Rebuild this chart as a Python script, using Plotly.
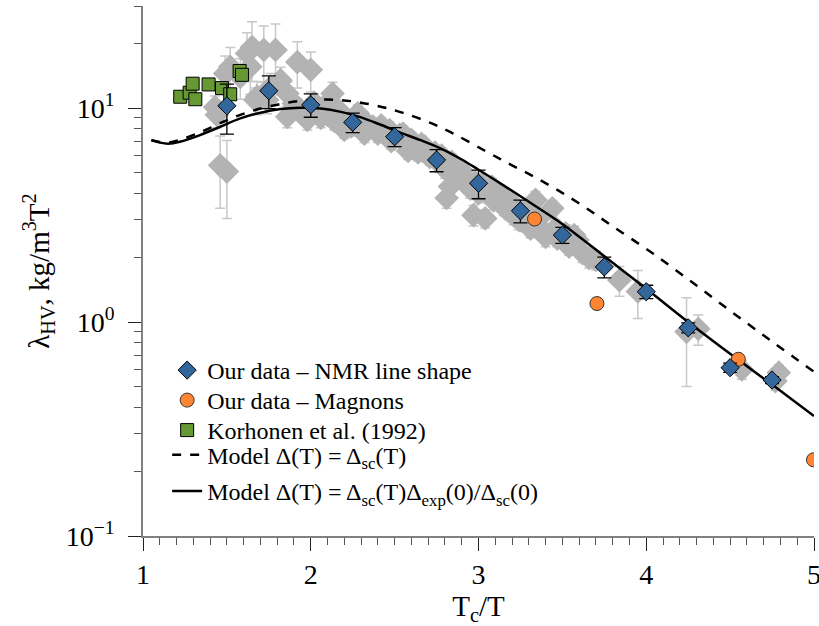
import plotly.graph_objects as go

# Our data: NMR line shape
nmr_x = [1.50, 1.75, 2.00, 2.25, 2.50, 2.75, 3.00, 3.25, 3.50, 3.75, 4.00, 4.25, 4.50, 4.75]
nmr_y = [10.25, 12.05, 10.36, 8.58, 7.35, 5.72, 4.45, 3.31, 2.55, 1.81, 1.386, 0.94, 0.612, 0.536]
nmr_err = [2.7, 2.1, 1.3, 0.9, 0.75, 0.68, 0.68, 0.40, 0.22, 0.20, 0.10, 0.05, 0.03, 0.02]

# Our data: magnons
mag_x = [3.334, 3.706, 4.549, 4.997]
mag_y = [3.03, 1.22, 0.67, 0.227]

# Korhonen et al. (1992)
kor_x = [1.222, 1.278, 1.296, 1.312, 1.391, 1.471, 1.520, 1.576, 1.590]
kor_y = [11.3, 11.8, 13.0, 11.0, 12.9, 12.4, 11.6, 14.9, 14.3]

# Other measurements (grey background set)
grey_x = [1.43, 1.44, 1.46, 1.50, 1.49, 1.52, 1.58, 1.62, 1.64, 1.65, 1.68, 1.67,
          1.72, 1.74, 1.76, 1.79, 1.82, 1.86, 1.86, 1.90, 1.92, 1.92, 1.95, 1.98,
          2.00, 2.03, 2.06, 2.10, 2.13, 2.14, 2.18, 2.21, 2.24, 2.28, 2.30, 2.34,
          2.37, 2.40, 2.44, 2.47, 2.50, 2.53, 2.56, 2.60, 2.62, 2.66, 2.69, 2.71,
          2.74, 2.77, 2.80, 2.81, 2.83, 2.86, 2.89, 2.92, 2.95, 2.97, 3.00, 3.04,
          3.06, 3.09, 3.12, 3.15, 3.18, 3.21, 3.24, 3.27, 3.31, 3.34, 3.37, 3.40,
          3.44, 3.47, 3.54, 3.59, 3.62, 3.66, 3.70, 3.84, 3.95, 4.24, 4.31, 4.57,
          4.79, 4.77,
          2.02, 2.08, 2.16, 2.20, 2.26, 2.32, 2.42, 2.48, 2.55, 2.58, 2.64, 2.68,
          2.78, 2.84, 2.90, 2.98, 3.02, 3.08, 3.14, 3.20, 3.28, 3.36, 3.46, 3.52,
          3.57]
grey_y = [10.1, 9.3, 5.4, 5.05, 14.5, 15.6, 14.0, 18.0, 15.6, 19.3, 11.3, 10.9,
          18.7, 10.9, 12.5, 18.7, 13.5, 11.7, 9.1, 10.5, 16.4, 10.1, 9.6, 8.8,
          15.1, 9.8, 9.0, 9.3, 11.7, 8.7, 8.5, 9.0, 8.2, 9.45, 8.0, 8.4,
          8.2, 7.6, 7.9, 7.9, 7.2, 7.5, 6.9, 7.1, 6.5, 6.8, 6.1, 5.9,
          6.2, 5.5, 5.2, 3.8, 4.3, 5.3, 4.8, 4.6, 4.2, 3.16, 4.0, 3.05,
          4.1, 3.7, 3.72, 3.45, 3.3, 3.15, 3.0, 2.95, 2.73, 3.72, 2.75, 2.50,
          3.40, 2.45, 2.25, 2.42, 2.1, 1.99, 1.95, 1.57, 1.39, 0.90, 0.93, 0.60,
          0.58, 0.53,
          10.6, 10.2, 9.9, 7.9, 8.9, 7.6, 8.3, 7.0, 7.6, 6.3, 6.2, 6.6,
          6.0, 5.6, 5.1, 4.5, 4.4, 4.3, 3.9, 3.6, 3.3, 3.05, 2.75, 2.6,
          2.55]
grey_err = [1.3, 1.2, 2.0, 2.0, 3.0, 3.6, 3.0, 4.5, 4.0, 6.0, 2.0, 1.5,
            5.5, 1.5, 2.0, 6.0, 2.0, 1.5, 1.0, 1.2, 4.0, 1.0, 1.0, 0.9,
            3.2, 1.0, 0.9, 0.9, 1.5, 0.8, 0.8, 0.8, 0.8, 0.9, 0.7, 0.8,
            0.7, 0.7, 0.7, 0.7, 0.6, 0.6, 0.6, 0.6, 0.6, 0.6, 0.5, 0.5,
            0.5, 0.5, 0.5, 0.4, 0.4, 0.5, 0.45, 0.4, 0.4, 0.35, 0.4, 0.3,
            0.4, 0.35, 0.35, 0.3, 0.3, 0.3, 0.3, 0.3, 0.25, 0.35, 0.25, 0.25,
            0.3, 0.2, 0.2, 0.2, 0.2, 0.2, 0.2, 0.25, 0.35, 0.4, 0.15, 0.06,
            0.05, 0.05,
            1.0, 0.9, 0.9, 0.7, 0.8, 0.7, 0.7, 0.6, 0.6, 0.55, 0.55, 0.55,
            0.5, 0.5, 0.45, 0.4, 0.4, 0.4, 0.35, 0.3, 0.3, 0.3, 0.25, 0.25,
            0.25]

# Model curves
model_sc_x = [1.05, 1.10, 1.15, 1.22, 1.34, 1.46, 1.58, 1.70, 1.82, 1.94, 2.06, 2.18,
              2.30, 2.43, 2.55, 2.71, 2.85, 3.03, 3.18, 3.33, 3.48, 3.63, 3.80, 4.04,
              4.30, 4.54, 4.77, 5.00]
model_sc_y = [7.08, 6.95, 6.90, 7.10, 7.70, 8.50, 9.30, 9.95, 10.45, 10.80, 10.95, 10.90,
              10.60, 10.10, 9.50, 8.55, 7.60, 6.37, 5.50, 4.78, 4.10, 3.46, 2.80, 2.09,
              1.48, 1.07, 0.79, 0.586]
model_exp_x = [1.05, 1.10, 1.15, 1.22, 1.34, 1.46, 1.58, 1.70, 1.82, 1.94, 2.06, 2.18,
               2.30, 2.41, 2.53, 2.65, 2.77, 2.90, 3.00, 3.13, 3.30, 3.43, 3.50, 3.75,
               4.00, 4.25, 4.50, 4.75, 5.00]
model_exp_y = [7.08, 6.90, 6.82, 6.96, 7.48, 8.18, 8.95, 9.51, 9.89, 10.03, 9.95, 9.60,
               9.05, 8.40, 7.70, 7.10, 6.50, 5.75, 5.15, 4.45, 3.65, 3.13, 2.87, 2.03,
               1.43, 1.00, 0.71, 0.51, 0.364]

FONT = "Liberation Serif, Times New Roman, serif"
BLUE = "#33669a"
ORANGE = "#ff8533"
GREEN = "#669933"
GREY = "#b3b3b3"

fig = go.Figure()

fig.add_trace(go.Scatter(
    x=grey_x, y=grey_y, mode="markers", showlegend=False,
    marker=dict(symbol="diamond", size=19, color=GREY, line=dict(width=0)),
    error_y=dict(type="data", array=grey_err, color="#c8c8c8", thickness=1.5, width=5),
))
fig.add_trace(go.Scatter(
    x=model_sc_x, y=model_sc_y, mode="lines", line_shape="spline",
    name="Model Δ(T) = Δ<sub>sc</sub>(T)", legend="legend4",
    line=dict(color="black", width=2.5, dash="dash"),
))
fig.add_trace(go.Scatter(
    x=model_exp_x, y=model_exp_y, mode="lines", line_shape="spline",
    name="Model Δ(T) = Δ<sub>sc</sub>(T)Δ<sub>exp</sub>(0)/Δ<sub>sc</sub>(0)", legend="legend5",
    line=dict(color="black", width=2.5),
))
fig.add_trace(go.Scatter(
    x=kor_x, y=kor_y, mode="markers", name="Korhonen et al. (1992)", legend="legend3",
    marker=dict(symbol="square", size=13, color=GREEN, line=dict(color="black", width=1)),
))
fig.add_trace(go.Scatter(
    x=mag_x, y=mag_y, mode="markers", name="Our data – Magnons", legend="legend2",
    marker=dict(symbol="circle", size=14, color=ORANGE, line=dict(color="#333333", width=1)),
))
fig.add_trace(go.Scatter(
    x=nmr_x, y=nmr_y, mode="markers", name="Our data – NMR line shape", legend="legend",
    marker=dict(symbol="diamond", size=14, color=BLUE, line=dict(color="black", width=1)),
    error_y=dict(type="data", array=nmr_err, color="black", thickness=1.3, width=7),
))

axis_common = dict(
    showline=True, linecolor="#808080", linewidth=1.5, mirror=False,
    showgrid=False, zeroline=False, ticks="outside", tickcolor="#222222",
    tickwidth=1.3, ticklen=13, ticklabeloverflow="allow", automargin=False,
    tickfont=dict(family=FONT, size=28, color="black"),
)

legend_common = dict(
    x=0.036, xanchor="left", yanchor="top", bgcolor="rgba(0,0,0,0)", borderwidth=0,
    font=dict(family=FONT, size=24, color="black"),
    tracegroupgap=0, itemwidth=30,
)

fig.update_layout(
    width=819, height=626,
    margin=dict(l=143, r=5, t=6, b=90),
    paper_bgcolor="white", plot_bgcolor="white",
    font=dict(family=FONT, color="black"),
    xaxis=dict(
        range=[1, 5], tickvals=[1, 2, 3, 4, 5], ticktext=["1", "2", "3", "4", "5"],
        minor=dict(dtick=0.1, ticks="outside", ticklen=7, tickcolor="#555555", tickwidth=1.2),
        title=dict(text="T<sub>c</sub>/T", font=dict(family=FONT, size=29), standoff=2),
        **axis_common,
    ),
    yaxis=dict(
        type="log", range=[-1, 1.4771],
        tickvals=[0.1, 1, 10], ticktext=["10<sup>−1</sup>", "10<sup>0</sup>", "10<sup>1</sup>"],
        minor=dict(tickvals=[0.2, 0.3, 0.4, 0.5, 0.6, 0.7, 0.8, 0.9,
                             2, 3, 4, 5, 6, 7, 8, 9, 20, 30],
                   ticks="outside", ticklen=7, tickcolor="#555555", tickwidth=1.2),
        title=dict(text="λ<sub>HV</sub>, kg/m<sup>3</sup>T<sup>2</sup>",
                   font=dict(family=FONT, size=29), standoff=8),
        ticklabelstandoff=8,
        **axis_common,
    ),
    legend=dict(y=0.3547, **legend_common),
    legend2=dict(y=0.2981, **legend_common),
    legend3=dict(y=0.2415, **legend_common),
    legend4=dict(y=0.1950, **legend_common),
    legend5=dict(y=0.1264, **legend_common),
)

fig.write_html("out.html")
